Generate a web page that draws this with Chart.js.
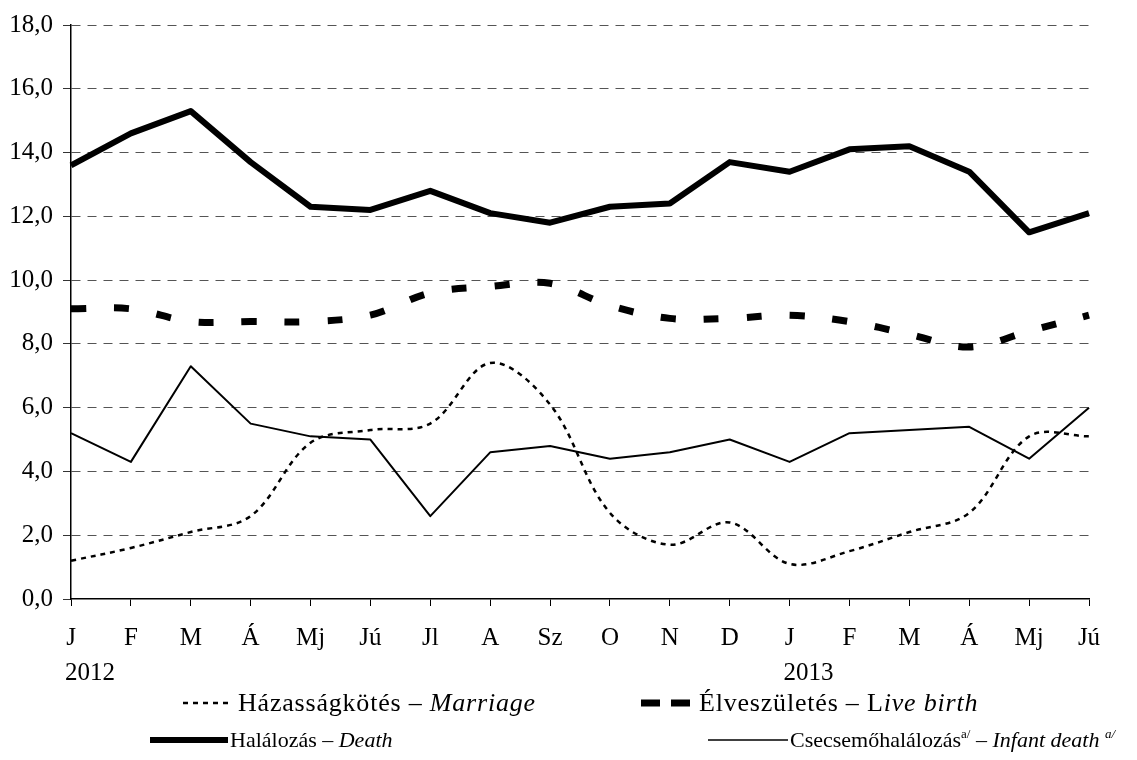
<!DOCTYPE html>
<html>
<head>
<meta charset="utf-8">
<script src="https://cdn.jsdelivr.net/npm/chart.js@4"></script>
<style>
  html, body { margin: 0; padding: 0; background: #fff; }
  #wrap { position: relative; width: 1137px; height: 760px; }
  .leg { position: absolute; height: 28px; display: flex; align-items: center; white-space: nowrap;
         font-family: "Liberation Serif", "Times New Roman", serif; font-size: 22px; color: #000; }
  .leg.big { font-size: 26px; letter-spacing: 0.8px; }
  .leg svg { display: block; }
  .leg sup { font-size: 13px; vertical-align: 9px; line-height: 0; }
</style>
</head>
<body>
<div id="wrap">
  <canvas id="c"></canvas>
  <div class="leg big" style="left:183px;top:689px">
    <svg width="46" height="10"><line x1="0" y1="5" x2="46" y2="5" stroke="#000" stroke-width="2.5" stroke-dasharray="5,5"/></svg>
    <span style="margin-left:9px">Házasságkötés – <i>Marriage</i></span>
  </div>
  <div class="leg big" style="left:641px;top:689px">
    <svg width="50" height="10"><line x1="0" y1="5" x2="50" y2="5" stroke="#000" stroke-width="7" stroke-dasharray="19,11"/></svg>
    <span style="margin-left:8px">Élveszületés – L<i>ive birth</i></span>
  </div>
  <div class="leg" style="left:150px;top:726px">
    <svg width="78" height="10"><line x1="0" y1="5" x2="78" y2="5" stroke="#000" stroke-width="6"/></svg>
    <span style="margin-left:2px">Halálozás – <i>Death</i></span>
  </div>
  <div class="leg" style="left:708px;top:726px">
    <svg width="80" height="10"><line x1="0" y1="5" x2="80" y2="5" stroke="#000" stroke-width="1.5"/></svg>
    <span style="margin-left:2px">Csecsemőhalálozás<sup>a/</sup> – <i>Infant death <sup>a/</sup></i></span>
  </div>
</div>
<script>
const months = ['J', 'F', 'M', 'Á', 'Mj', 'Jú', 'Jl', 'A', 'Sz', 'O', 'N', 'D', 'J', 'F', 'M', 'Á', 'Mj', 'Jú'];
const years = ['2012', '2013'];
const yearStart = [0, 12];

const marriage = [1.2, 1.6, 2.1, 2.6, 4.9, 5.3, 5.5, 7.4, 6.1, 2.7, 1.7, 2.4, 1.1, 1.5, 2.1, 2.7, 5.1, 5.1];
const liveBirth = [9.1, 9.1, 8.7, 8.7, 8.7, 8.9, 9.6, 9.8, 9.9, 9.2, 8.8, 8.8, 8.9, 8.7, 8.3, 7.9, 8.4, 8.9];
const death = [13.6, 14.6, 15.3, 13.7, 12.3, 12.2, 12.8, 12.1, 11.8, 12.3, 12.4, 13.7, 13.4, 14.1, 14.2, 13.4, 11.5, 12.1];
const infant = [5.2, 4.3, 7.3, 5.5, 5.1, 5.0, 2.6, 4.6, 4.8, 4.4, 4.6, 5.0, 4.3, 5.2, 5.3, 5.4, 4.4, 6.0];

const serif = '"Liberation Serif", "Times New Roman", serif';
Chart.defaults.font.family = serif;
Chart.defaults.color = '#000';

// Évszámok a hónapcímkék alatt
const yearLabels = {
  id: 'yearLabels',
  afterDraw(chart) {
    const { ctx, scales: { x } } = chart;
    ctx.save();
    ctx.font = '25px ' + serif;
    ctx.fillStyle = '#000';
    ctx.textAlign = 'center';
    ctx.textBaseline = 'middle';
    years.forEach((y, i) => ctx.fillText(y, x.getPixelForValue(yearStart[i]) + 19, 673));
    ctx.restore();
  },
};

const line = (data, extra) => Object.assign({
  data, borderColor: '#000', backgroundColor: '#000', pointRadius: 0, fill: false,
  tension: 0, borderJoinStyle: 'round', borderCapStyle: 'butt',
}, extra);

new Chart(document.getElementById('c'), {
  type: 'line',
  data: {
    labels: months,
    datasets: [
      line(infant, { label: 'Csecsemőhalálozás', borderWidth: 2 }),
      line(marriage, { label: 'Házasságkötés', borderWidth: 2.5, borderDash: [5, 5], tension: 0.35 }),
      line(liveBirth, { label: 'Élveszületés', borderWidth: 7, borderDash: [15, 28], tension: 0.35, borderJoinStyle: 'miter' }),
      line(death, { label: 'Halálozás', borderWidth: 6 }),
    ],
  },
  options: {
    responsive: true,
    maintainAspectRatio: false,
    animation: false,
    layout: { padding: { top: 24, right: 48, left: 0, bottom: 0 } },
    plugins: { legend: { display: false }, tooltip: { enabled: false } },
    scales: {
      x: {
        offset: false,
        afterFit: (s) => { s.height = 161; },
        grid: { drawOnChartArea: false, tickLength: 7, color: '#000', tickColor: '#000' },
        border: { color: '#000', width: 1.5 },
        ticks: { font: { size: 25 }, padding: 17, maxRotation: 0, autoSkip: false },
      },
      y: {
        min: 0, max: 18,
        afterFit: (s) => { s.width = 71; },
        grid: {
          color: (c) => (c.tick && c.tick.value === 0 ? 'rgba(0,0,0,0)' : '#555'),
          tickColor: '#333', tickLength: 8, lineWidth: 1,
        },
        border: { color: '#000', width: 1.5, dash: [9, 7] },
        ticks: {
          stepSize: 2, padding: 10, font: { size: 25 },
          callback: (v) => v.toFixed(1).replace('.', ','),
        },
      },
    },
  },
  plugins: [yearLabels],
});
</script>
</body>
</html>
